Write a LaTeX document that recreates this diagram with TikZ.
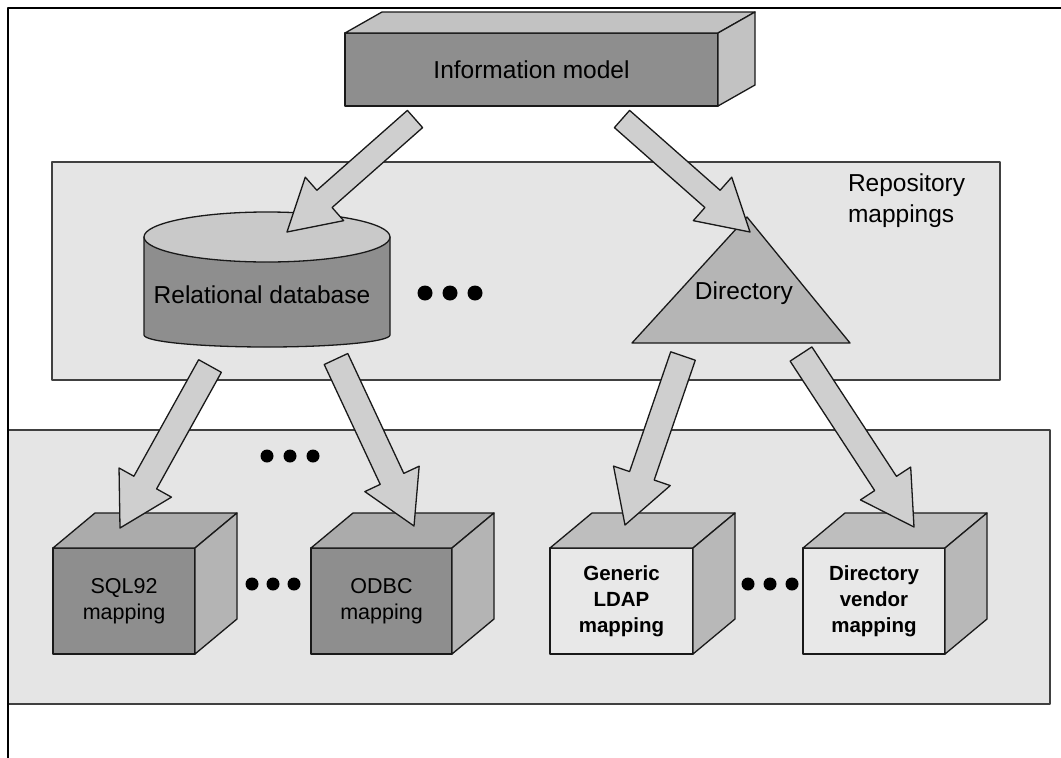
\documentclass[tikz,border=0pt]{standalone}
\usepackage{fontspec}
\setmainfont{Liberation Sans}
\usetikzlibrary{calc}
\definecolor{panelgray}{HTML}{E5E5E5}
\definecolor{darkface}{HTML}{8E8E8E}
\definecolor{darktop}{HTML}{ABABAB}
\definecolor{darkside}{HTML}{B4B4B4}
\definecolor{lightface}{HTML}{E8E8E8}
\definecolor{lighttop}{HTML}{BEBEBE}
\definecolor{lightside}{HTML}{B8B8B8}
\definecolor{arrowgray}{HTML}{CFCFCF}
\definecolor{trigray}{HTML}{B5B5B5}
\definecolor{cyltop}{HTML}{C9C9C9}
\definecolor{modeltop}{HTML}{C2C2C2}

\begin{document}
\begin{tikzpicture}
		[x=1pt,y=-1pt,line join=round]
		\tikzstyle{every node}=[inner sep=0pt, outer sep=0pt, align=center,
		font=\fontsize{24.5}{30}\selectfont]
		\tikzstyle{panel}=[draw=black!75, line width=1.6pt, fill=panelgray]
		\tikzstyle{face}=[draw=black!90, line width=1.3pt]
		\tikzstyle{edge}=[draw=black!90, line width=1.3pt]
		\tikzstyle{small}=[font=\fontsize{21.5}{26}\selectfont]
		\tikzstyle{smallbold}=[font=\fontsize{20.5}{26}\selectfont\bfseries]
		\tikzstyle{blockarr}=[draw=black!90, line width=1.3pt, fill=arrowgray]
		\useasboundingbox (0,0) rectangle (1061,758);
		%-----panels
		 \node[panel, minimum width=948pt, minimum height=218pt] (repo) at (526,271) {};
		 \node[panel, minimum width=1042pt, minimum height=274pt] (impl) at (529,567) {};
		 \node[anchor=west, align=left, font=\fontsize{24.5}{31}\selectfont] (replabel) at (848,201) {Repository\\mappings};
		 \draw[line width=1.5pt] (8,758) -- (8,8) -- (1061,8);
		%-----model
		 \node[face, fill=darkface, minimum width=373pt, minimum height=73pt] (model) at (531.5,69.5) {Information model};
		 \draw[edge, fill=modeltop] (model.north west) -- ++(37,-21) -- ($(model.north east)+(37,-21)$) -- (model.north east) -- cycle;
		 \draw[edge, fill=modeltop] (model.north east) -- ++(37,-21) -- ($(model.south east)+(37,-21)$) -- (model.south east) -- cycle;
		%-----repositories
		 \draw[edge, fill=darkface] (144,237) -- (144,335) arc[start angle=180, end angle=0, x radius=123, y radius=12] -- (390,237) -- cycle;
		 \draw[edge, fill=cyltop] (267,237) ellipse [x radius=123, y radius=25];
		 \node (reldb) at (262,295) {Relational database};
		 \draw[edge, fill=trigray] (747,217) -- (850,343) -- (632,343) -- cycle;
		 \node (dir) at (744,293) {Directory};
		%-----mappings
		 \node[face, small, fill=darkface, minimum width=142pt, minimum height=106pt] (sql) at (124,601) {SQL92\\mapping};
		 \node[face, small, fill=darkface, minimum width=141pt, minimum height=106pt] (odbc) at (381.5,601) {ODBC\\mapping};
		 \node[face, smallbold, fill=lightface, minimum width=143pt, minimum height=106pt] (ldap) at (621.5,601) {Generic\\LDAP\\mapping};
		 \node[face, smallbold, fill=lightface, minimum width=142pt, minimum height=106pt] (vendor) at (874,601) {Directory\\vendor\\mapping};
		 \foreach \n/\t/\s in {sql/darktop/darkside,odbc/darktop/darkside,ldap/lighttop/lightside,vendor/lighttop/lightside}
		 {
		 \draw[edge, fill=\t] (\n.north west) -- ++(42,-35) -- ($(\n.north east)+(42,-35)$) -- (\n.north east) -- cycle;
		 \draw[edge, fill=\s] (\n.north east) -- ++(42,-35) -- ($(\n.south east)+(42,-35)$) -- (\n.south east) -- cycle;
		 }
		%-----dots
		 \foreach \x in {425,450,475} \fill (\x,293) circle (7.5pt);
		 \foreach \x in {267,290,313} \fill (\x,456) circle (6.5pt);
		 \foreach \x in {252,273,294} \fill (\x,584) circle (6.5pt);
		 \foreach \x in {748,770,792} \fill (\x,584) circle (6.5pt);
		%-----arrows
		 \coordinate (modelL) at (415,119);
		 \coordinate (modelR) at (622,119);
		 \coordinate (reldbIn) at (287,232);
		 \coordinate (dirIn) at (750,232);
		 \coordinate (reldbL) at (210,366);
		 \coordinate (reldbR) at (336,359);
		 \coordinate (dirL) at (683,356);
		 \coordinate (dirR) at (801,354);
		 \coordinate (sqlIn) at (120,528);
		 \coordinate (odbcIn) at (414,526);
		 \coordinate (ldapIn) at (625,525);
		 \coordinate (vendorIn) at (914,527);
		 
		 \foreach \from/\to/\w/\h/\l in {modelL/reldbIn/11.5pt/29pt/50pt,modelR/dirIn/11.5pt/29pt/50pt,reldbL/sqlIn/13pt/30pt/52pt,reldbR/odbcIn/13pt/30pt/52pt,dirL/ldapIn/13pt/30pt/52pt,dirR/vendorIn/13pt/30pt/52pt}
		 {
		 \coordinate (hb) at ($(\to)!\l!(\from)$);
		 \draw[blockarr] ($(\from)!\w!90:(\to)$) -- ($(hb)!\w!90:(\to)$) -- ($(hb)!\h!90:(\to)$) -- (\to)
		   -- ($(hb)!\h!-90:(\to)$) -- ($(hb)!\w!-90:(\to)$) -- ($(\from)!\w!-90:(\to)$) -- cycle;
		 }
		 
		 	\end{tikzpicture}
\end{document}
